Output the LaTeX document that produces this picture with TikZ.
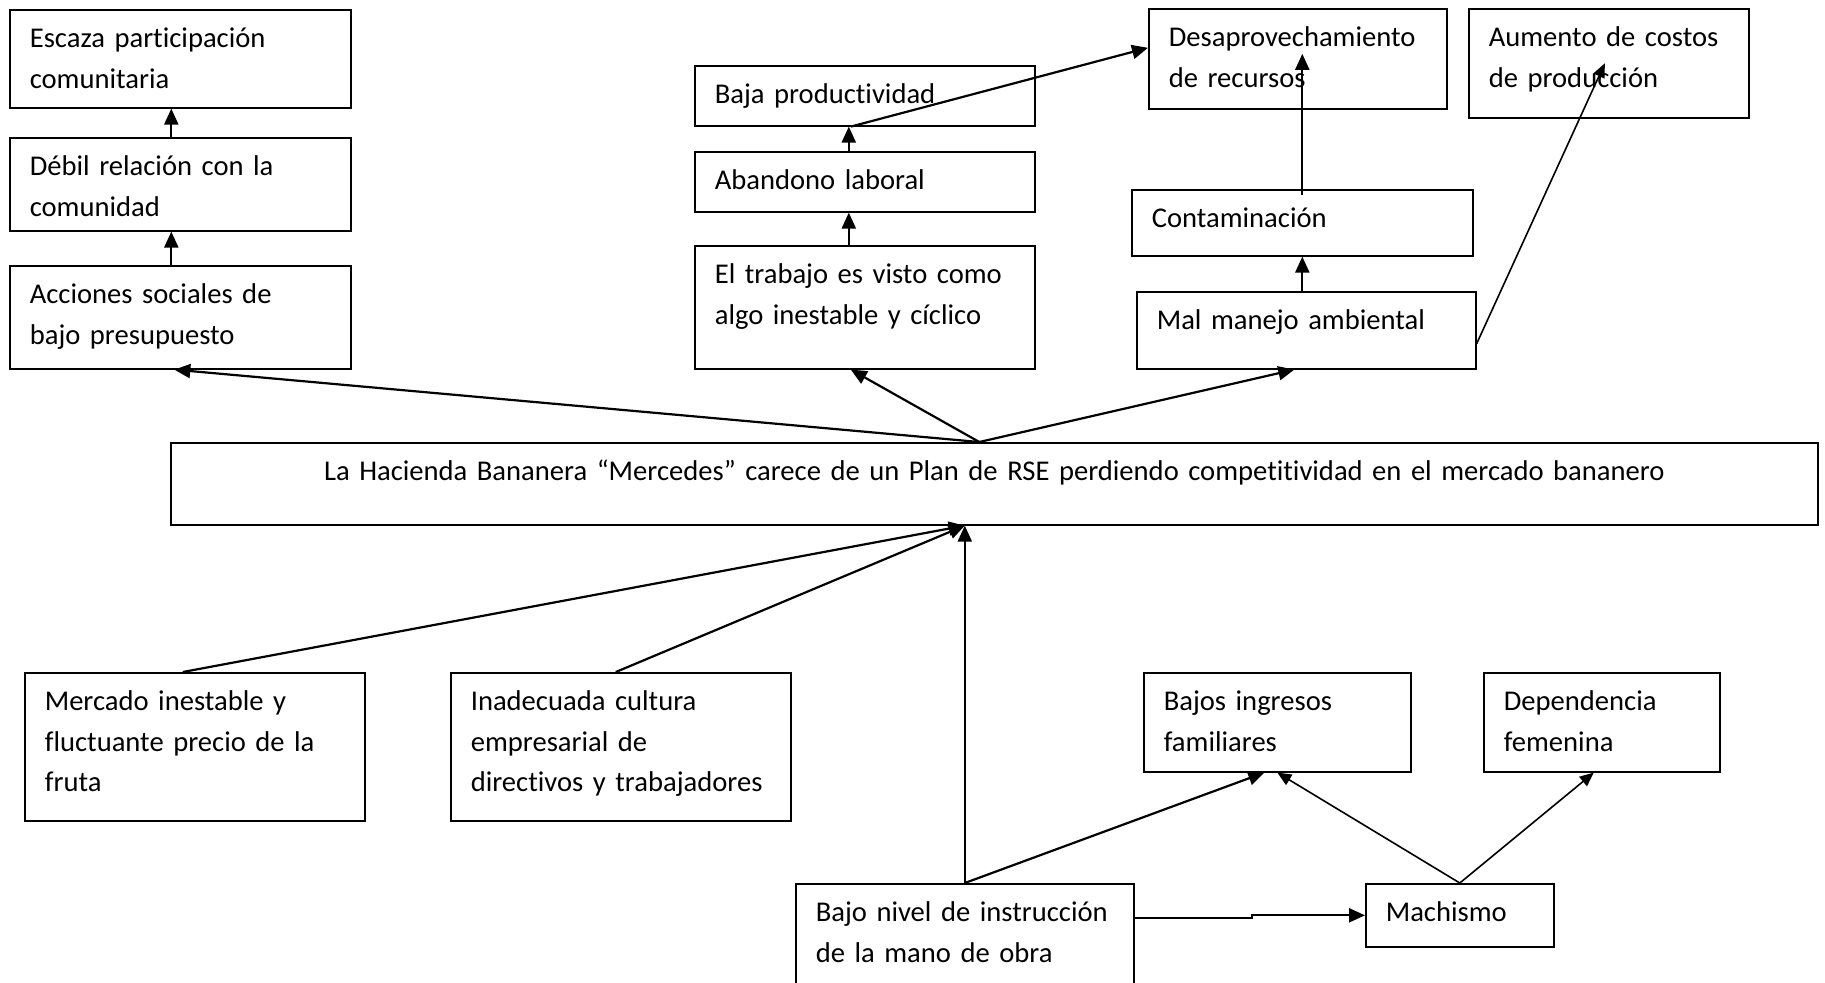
\documentclass[tikz,border=0pt]{standalone}
\usepackage{fontspec}
\setmainfont{Carlito}[Ligatures=NoCommon]
\usetikzlibrary{arrows.meta,calc}
\hyphenpenalty=10000
\exhyphenpenalty=10000

\begin{document}
\begin{tikzpicture}[x=0.5pt,y=-0.5pt,
  caja/.style={draw, line width=0.8pt, anchor=north west, align=left,
    inner xsep=10pt, inner ysep=0pt, text height=19pt,
    font=\fontsize{14.3}{20.2}\selectfont},
  flecha/.style={line width=1.1pt, -{Triangle[length=8pt,width=7pt]}},
  fina/.style={line width=0.8pt, -{Triangle[length=7pt,width=6pt]}}]
\useasboundingbox (0,0) rectangle (1825,982);

% efectos
\node[caja, text width=150.5pt, text depth=30pt] (escaza) at (9,9) {Escaza participación\\comunitaria};
\node[caja, text width=150.5pt, text depth=27.5pt] (debil) at (9,137) {Débil relación con la\\comunidad};
\node[caja, text width=150.5pt, text depth=32.5pt] (acciones) at (9,265) {Acciones sociales de\\bajo presupuesto};
\node[caja, text width=150pt, text depth=11pt] (baja) at (694,65) {Baja productividad};
\node[caja, text width=150pt, text depth=11pt] (abandono) at (694,151) {Abandono laboral};
\node[caja, text width=150pt, text depth=42.5pt] (trabajo) at (694,245) {El trabajo es visto como\\algo inestable y cíclico};
\node[caja, text width=129pt, text depth=31pt] (desaprov) at (1148,8) {Desaprovechamiento\\de recursos};
\node[caja, text width=120pt, text depth=35.5pt] (aumento) at (1468,8) {Aumento de costos\\de producción};
\node[caja, text width=150.5pt, text depth=14pt] (contam) at (1131,189) {Contaminación};
\node[caja, text width=149.5pt, text depth=19.5pt] (malmanejo) at (1136,291) {Mal manejo ambiental};

% problema central
\node[caja, align=center, text width=803.5pt, text depth=22pt] (central) at (170,442) {La Hacienda Bananera “Mercedes” carece de un Plan de RSE perdiendo competitividad en el mercado bananero};

% causas
\node[caja, text width=150pt, text depth=55pt] (mercado) at (24,672) {Mercado inestable y\\fluctuante precio de la\\fruta};
\node[caja, text width=150pt, text depth=55pt] (inadec) at (450,672) {Inadecuada cultura\\empresarial de\\directivos~y~trabajadores};
\node[caja, text width=113.5pt, text depth=30.5pt] (bajosing) at (1143,672) {Bajos ingresos\\familiares};
\node[caja, text width=98pt, text depth=30.5pt] (dependencia) at (1483,672) {Dependencia\\femenina};
\node[caja, text width=149pt, text depth=41pt] (bajonivel) at (795,883) {Bajo~nivel~de~instrucción\\de la mano de obra};
\node[caja, text width=74pt, text depth=12.5pt] (machismo) at (1365,883) {Machismo};

% flechas hacia arriba
\coordinate (ctop) at ([xshift=-7.5pt]central.north);
\draw[flecha] (ctop) -- ([xshift=-3pt]acciones.south);
\draw[flecha] (ctop) -- ([xshift=-7pt]trabajo.south);
\draw[flecha] (ctop) -- ([xshift=-6pt]malmanejo.south);
\draw[flecha] ([xshift=-4.5pt]acciones.north) -- ([xshift=-4.5pt]debil.south);
\draw[flecha] ([xshift=-4.5pt]debil.north) -- ([xshift=-4.5pt]escaza.south);
\draw[flecha] ([xshift=-8pt]trabajo.north) -- ([xshift=-8pt]abandono.south);
\draw[flecha] ([xshift=-8pt]abandono.north) -- ([xshift=-8pt]baja.south);
\draw[flecha] ([xshift=-7pt]baja.south) -- ([yshift=5.5pt]desaprov.west);
\draw[flecha] ([yshift=-3pt]contam.north) -- ($(contam.north |- desaprov.center)+(0,-5)$);
\draw[flecha] (contam.south |- malmanejo.north) -- (contam.south);
\draw[fina] ([yshift=-6.75pt]malmanejo.east) -- ([xshift=-2pt]aumento.center);

% flechas de las causas
\coordinate (cbot) at (bajonivel.north |- central.south);
\draw[flecha] ([xshift=-6pt]mercado.north) -- (cbot);
\draw[flecha] ([xshift=-2.5pt]inadec.north) -- (cbot);
\draw[flecha] (bajonivel.north) -- (cbot);
\draw[flecha] (bajonivel.north) -- ([xshift=-6.5pt]bajosing.south);
\draw[fina] (machismo.north) -- (bajosing.south);
\draw[fina] (machismo.north) -- ([xshift=-4pt]dependencia.south);
\draw[flecha] ($(bajonivel.north east)+(0,35)$) -- ++(117,0) |- (machismo.west);
\end{tikzpicture}
\end{document}
